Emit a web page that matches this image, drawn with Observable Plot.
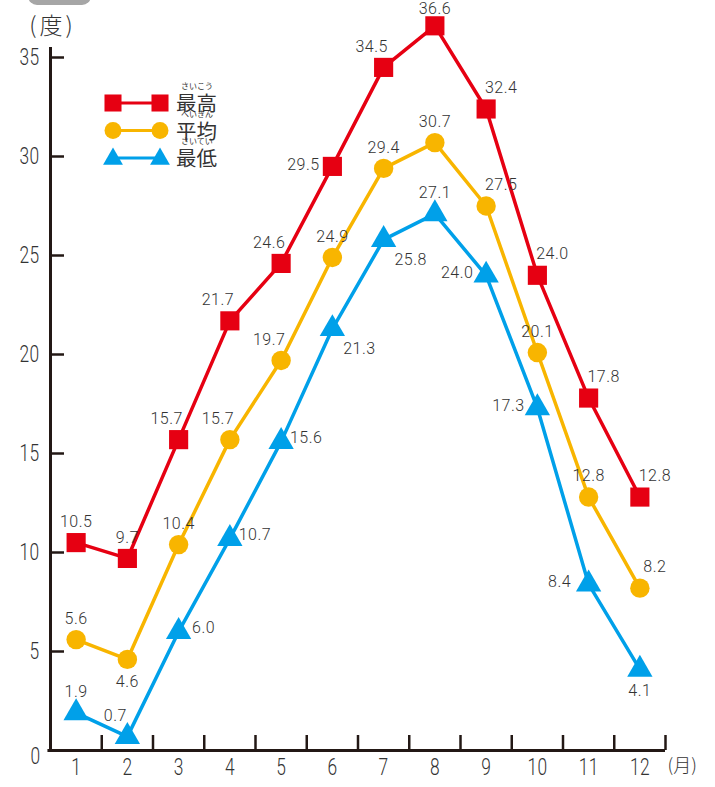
<!DOCTYPE html>
<html><head><meta charset="utf-8">
<script src="https://cdn.jsdelivr.net/npm/d3@7"></script>
<script src="https://cdn.jsdelivr.net/npm/@observablehq/plot@0.6"></script>
<style>
html,body{margin:0;padding:0;background:#fff;}
#wrap{position:relative;width:715px;height:787px;overflow:hidden;}
#tab{position:absolute;left:28px;top:-10px;width:63px;height:15px;background:#a6a6a6;border-radius:0 0 9px 9px;}
#legend{position:absolute;left:0;top:0;}
svg g[aria-label="text"] text{letter-spacing:0.5px;}
</style></head>
<body><div id="wrap"><div id="tab"></div></div>
<script>
const months = [1,2,3,4,5,6,7,8,9,10,11,12];
const maxTemp = [10.5, 9.7, 15.7, 21.7, 24.6, 29.5, 34.5, 36.6, 32.4, 24.0, 17.8, 12.8];
const avgTemp = [5.6, 4.6, 10.4, 15.7, 19.7, 24.9, 29.4, 30.7, 27.5, 20.1, 12.8, 8.2];
const minTemp = [1.9, 0.7, 6.0, 10.7, 15.6, 21.3, 25.8, 27.1, 24.0, 17.3, 8.4, 4.1];
const yTicks = [5, 10, 15, 20, 25, 30, 35];
const seriesNames = ["最高", "平均", "最低"];
const seriesRuby = ["さいこう", "へいきん", "さいてい"];
const yUnit = "(度)", xUnit = "(月)";

// label placement categories (which side of the marker)
const maxPos = ["t","t","tl","tl","tl","l","tl","T","tr","tr","tr","tr"];
const avgPos = ["t","b","t","tl","tl","t","t","t","tr","t","t","tr"];
const minPos = ["t","tl","r","r","r","br","br","t","l","l","l","b"];

const colors = {max:"#e60012", avg:"#f8b500", min:"#00a0e9"};
const offsets = {t:[0,-21], T:[0,-17], tl:[-12,-21], tr:[15,-21], l:[-29,-2], r:[25,-4], br:[27,20], b:[0,22]};
const axisColor = "#231815";
const numFont = "Roboto, 'Liberation Sans', sans-serif";
const tickFont = "Roboto, 'Liberation Sans', sans-serif";
const cjkFont = "'Noto Sans CJK JP', sans-serif";

const mk = (vals, pos, s) => months.map((m,i)=>({month:m, value:vals[i], series:s, pos:pos[i]}));
const rows = [...mk(maxTemp,maxPos,"max"), ...mk(avgTemp,avgPos,"avg"), ...mk(minTemp,minPos,"min")];

const pxPerMonth = 615/12, pxPerDeg = 693/35;

const labelMarks = Object.entries(offsets).map(([k,[dx,dy]]) =>
  Plot.text(rows.filter(r=>r.pos===k), {x:"month", y:"value", text:d=>d.value.toFixed(1), dx, dy,
    fontSize:16, fontFamily:numFont, fontWeight:300, fill:"#333"}));

const chart = Plot.plot({
  width:715, height:787, margin:0,
  x:{type:"linear", domain:[0.5,12.5], range:[50,665], axis:null},
  y:{domain:[0,35], range:[750,57], axis:null},
  marks:[
    Plot.ruleX([0.5], {y1:0, y2:35.5, stroke:axisColor, strokeWidth:3}),
    Plot.ruleY([0], {x1:0.45, x2:12.5, stroke:axisColor, strokeWidth:3}),
    Plot.ruleY(yTicks, {x1:0.5, x2:0.5+14/pxPerMonth, stroke:axisColor, strokeWidth:2.5}),
    Plot.ruleX(months.map(m=>m+0.5), {y1:0, y2:15/pxPerDeg, stroke:axisColor, strokeWidth:2.5}),
    Plot.text(yTicks, {x:0.5, y:d=>d, text:d=>String(d), textAnchor:"end", dx:-11, fontSize:24, fontFamily:tickFont, fontWeight:300, fill:"#333"}),
    Plot.text([0], {x:0.5, y:0, text:d=>String(d), dx:-15, dy:6, fontSize:24, fontFamily:tickFont, fontWeight:300, fill:"#333"}),
    Plot.text(months, {x:d=>d, y:0, text:d=>String(d), dy:17, fontSize:24, fontFamily:tickFont, fontWeight:300, fill:"#333"}),
    Plot.text([yUnit], {x:0.5, y:35, text:d=>d, textAnchor:"middle", dx:2, dy:-31, fontSize:23, fontFamily:cjkFont, fontWeight:300, fill:"#333"}),
    Plot.text([xUnit], {x:12.5, y:0, text:d=>d, textAnchor:"start", dx:2, dy:16, fontSize:18, fontFamily:cjkFont, fontWeight:300, fill:"#333"}),
    Plot.line(months, {x:d=>d, y:(d,i)=>maxTemp[i], stroke:colors.max, strokeWidth:3.5}),
    Plot.line(months, {x:d=>d, y:(d,i)=>avgTemp[i], stroke:colors.avg, strokeWidth:3.5}),
    Plot.line(months, {x:d=>d, y:(d,i)=>minTemp[i], stroke:colors.min, strokeWidth:3.5}),
    Plot.dot(rows.filter(r=>r.series==="max"), {x:"month", y:"value", symbol:"square", r:10.8, fill:colors.max}),
    Plot.dot(rows.filter(r=>r.series==="avg"), {x:"month", y:"value", symbol:"circle", r:9.7, fill:colors.avg}),
    Plot.dot(rows.filter(r=>r.series==="min"), {x:"month", y:"value", symbol:"triangle", r:9.4, fill:colors.min}),
    ...labelMarks
  ]
});
// condense the axis tick labels (first three text marks)
d3.select(chart).selectAll('g[aria-label="text"]').filter((d,i)=>i<3).selectAll("text")
  .each(function(){ const n = this.textContent.length; d3.select(this).attr("textLength", n*10).attr("lengthAdjust","spacingAndGlyphs"); });
d3.select(chart).selectAll('g[aria-label="text"]').filter((d,i)=>i===3).selectAll("text").style("letter-spacing","3px");
d3.select(chart).selectAll('g[aria-label="text"]').filter((d,i)=>i===4).selectAll("text").style("letter-spacing","0");

const wrap = document.getElementById("wrap");
chart.style.position = "absolute"; chart.style.left = "0"; chart.style.top = "0";
wrap.insertBefore(chart, wrap.firstChild);

// legend
const lg = d3.select(wrap).append("svg").attr("id","legend").attr("width",240).attr("height",180);
const legendRows = [{c:colors.max, s:d3.symbolSquare, size:290}, {c:colors.avg, s:d3.symbolCircle, size:225}, {c:colors.min, s:d3.symbolTriangle, size:170}];
legendRows.forEach((d,i)=>{
  const y = 103 + i*27.5;
  const g = lg.append("g");
  g.append("line").attr("x1",113).attr("x2",160).attr("y1",y).attr("y2",y).attr("stroke",d.c).attr("stroke-width",3);
  [113,160].forEach(x=>g.append("path").attr("d",d3.symbol(d.s,d.size)()).attr("transform",`translate(${x},${y + (i===2?1:0)})`).attr("fill",d.c));
  g.append("text").attr("x",176).attr("y",y+8).attr("font-size",20.5).attr("font-family",cjkFont).attr("fill","#333").text(seriesNames[i]);
  g.append("text").attr("x",197).attr("y",y-14).attr("text-anchor","middle").attr("font-size",8).attr("font-family",cjkFont).attr("fill","#333").text(seriesRuby[i]);
});
</script>
</body></html>
